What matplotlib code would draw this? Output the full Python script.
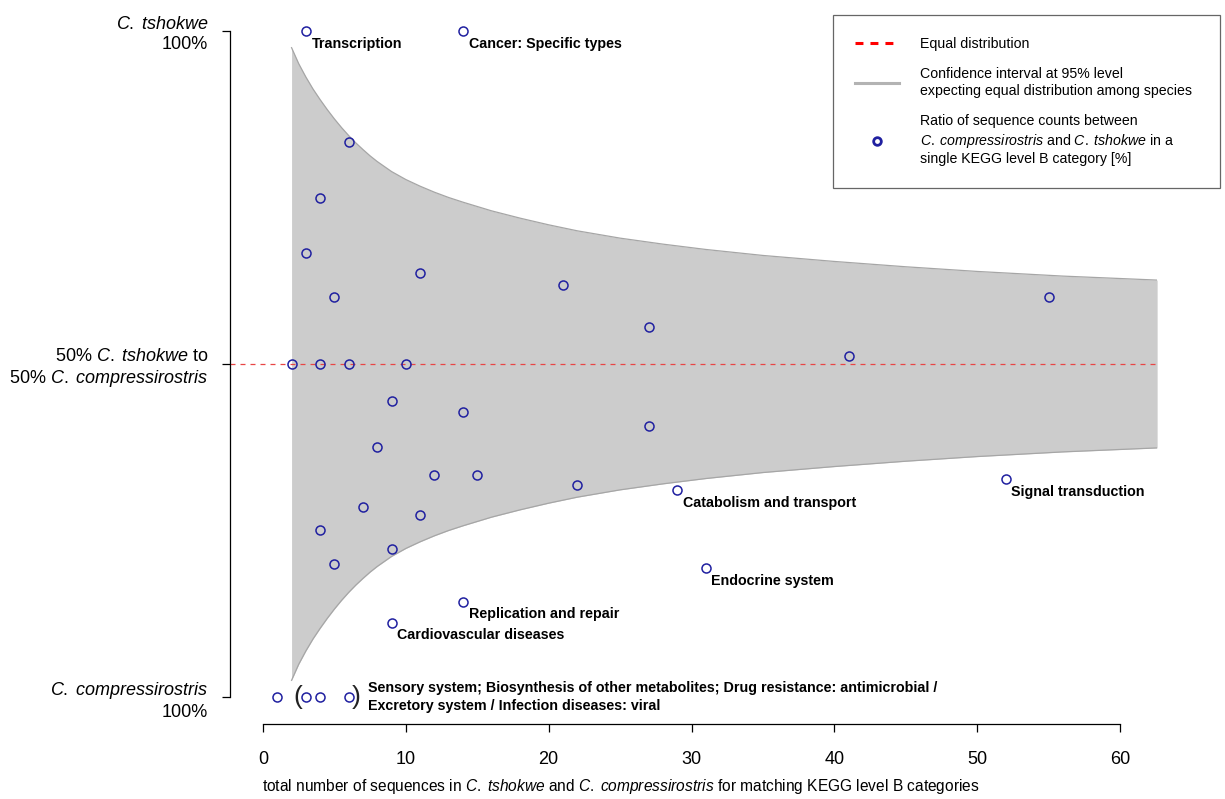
import numpy as np
import matplotlib.pyplot as plt
from matplotlib.lines import Line2D

plt.rcParams['font.family'] = 'Liberation Sans'
plt.rcParams['mathtext.fontset'] = 'custom'
plt.rcParams['mathtext.rm'] = 'Liberation Sans'
plt.rcParams['mathtext.it'] = 'Liberation Sans:italic'
plt.rcParams['mathtext.bf'] = 'Liberation Sans:bold'

# sequences per KEGG level B category: total in both species, and how many are C. tshokwe
n_total = [3, 14, 6, 4, 3, 11, 5, 21, 55, 27, 41, 2, 4, 6, 10, 9, 14, 27,
           8, 12, 15, 22, 29, 52, 7, 11, 4, 9, 5, 31, 14, 9, 1, 3, 4, 6]
n_tshokwe = [3, 14, 5, 3, 2, 7, 3, 13, 33, 15, 21, 1, 2, 3, 5, 4, 6, 11,
             3, 4, 5, 7, 9, 17, 2, 3, 1, 2, 1, 6, 2, 1, 0, 0, 0, 0]
point_labels = ["Transcription", "Cancer: Specific types", "", "", "", "", "", "", "", "", "",
                "", "", "", "", "", "", "", "", "", "", "",
                "Catabolism and transport", "Signal transduction", "", "", "", "", "",
                "Endocrine system", "Replication and repair", "Cardiovascular diseases",
                "", "", "", ""]
group_label = ("Sensory system; Biosynthesis of other metabolites; Drug resistance: antimicrobial /\n"
               "Excretory system / Infection diseases: viral")

# upper edge of the 95% band (lower edge is symmetric around 0.5)
band_n = [2, 2.5, 3, 3.5, 4, 4.5, 5, 5.5, 6, 6.5, 7, 7.5, 8, 9, 10, 11, 12, 13, 14,
          16, 18, 20, 22, 25, 28, 31, 35, 40, 45, 50, 56, 62.6]
band_upper = [0.975, 0.951, 0.931, 0.913, 0.897, 0.882, 0.868, 0.855, 0.843, 0.832,
              0.822, 0.8125, 0.804, 0.789, 0.777, 0.767, 0.758, 0.750, 0.743,
              0.730, 0.719, 0.709, 0.700, 0.689, 0.680, 0.672, 0.663, 0.654,
              0.646, 0.639, 0.632, 0.626]

x_ticks = [0, 10, 20, 30, 40, 50, 60]
y_ticks = [0, 0.5, 1]
y_tick_labels = [r"$\it{C.\;compressirostris}$" + "\n100%",
                 r"50% $\it{C.\;tshokwe}$ to" + "\n" + r"50% $\it{C.\;compressirostris}$",
                 r"$\it{C.\;tshokwe}$" + "\n100%"]

ratio = np.array(n_tshokwe) / np.array(n_total)
band_upper = np.array(band_upper)
band_lower = 1 - band_upper

fig = plt.figure(figsize=(12.25, 7.99), dpi=100)
ax = fig.add_axes([230 / 1225, 1 - 723.6 / 799, 927 / 1225, 719.2 / 799])
ax.set_xlim(-2.31, 62.59)
ax.set_ylim(-0.04, 1.04)

# confidence band
ax.fill_between(band_n, band_lower, band_upper, color='#CCCCCC', lw=0, zorder=1)
ax.plot(band_n, band_upper, color='#A6A6A6', lw=0.9, zorder=1)
ax.plot(band_n, band_lower, color='#A6A6A6', lw=0.9, zorder=1)

# equal distribution line
ax.axhline(0.5, color='#E84545', lw=0.9, dashes=(4, 4), zorder=2)

# category points
ax.plot(n_total, ratio, 'o', mfc='none', mec='#2020A0', ms=6.5, mew=1.1, zorder=3, clip_on=False)

for t, r, lab in zip(n_total, ratio, point_labels):
    if lab:
        ax.annotate(lab, (t, r), xytext=(4, -9), textcoords='offset points',
                    ha='left', va='center', fontweight='bold', fontsize=10.3)

# bracket around the zero-ratio points sharing one label
ax.text(2.45, 0, '(', fontsize=19, ha='center', va='center', color='#222222')
ax.text(6.5, 0, ')', fontsize=19, ha='center', va='center', color='#222222')
ax.text(7.35, 0, group_label, fontsize=10.3, fontweight='bold', ha='left', va='center',
        linespacing=1.3)

# axes in base-R style
ax.spines[['top', 'right']].set_visible(False)
ax.spines['left'].set_bounds(0, 1)
ax.spines['bottom'].set_bounds(0, 60)
for s in ['left', 'bottom']:
    ax.spines[s].set_linewidth(0.9)
ax.set_xticks(x_ticks)
ax.set_yticks(y_ticks)
ax.set_yticklabels(y_tick_labels, linespacing=1.2)
ax.tick_params(axis='both', direction='out', length=5.8, width=0.9, labelsize=13)
ax.tick_params(axis='y', pad=10)
ax.tick_params(axis='x', pad=14)

fig.text(621 / 1225, 1 - 787 / 799,
         "total number of sequences in " + r"$\it{C.\;tshokwe}$" + " and "
         + r"$\it{C.\;compressirostris}$" + " for matching KEGG level B categories",
         ha='center', va='center', fontsize=11.2)

handles = [Line2D([], [], color='red', lw=2.2, dashes=(2.6, 2.3)),
           Line2D([], [], color='#B3B3B3', lw=2.2),
           Line2D([], [], ls='none', marker='o', mfc='none', mec='#2020A0', mew=2, ms=5.5)]
labels = ["Equal distribution",
          "Confidence interval at 95% level\nexpecting equal distribution among species",
          "Ratio of sequence counts between\n" + r"$\it{C.\;compressirostris}$ and $\it{C.\;tshokwe}$ in a"
          + "\nsingle KEGG level B category [%]"]
leg = ax.legend(handles, labels, loc='upper left',
                bbox_to_anchor=(833 / 1225, (799 - 183) / 799, 387 / 1225, 168 / 799),
                bbox_transform=fig.transFigure, mode='expand', borderaxespad=0, fancybox=False,
                edgecolor='#666666', framealpha=1, fontsize=10.2, handlelength=3.1,
                handletextpad=1.5, borderpad=1.55, labelspacing=1.15)
leg.get_frame().set_linewidth(0.9)
for t in leg.get_texts():
    t.set_linespacing(1.25)

fig.savefig('out.png', dpi=100)
